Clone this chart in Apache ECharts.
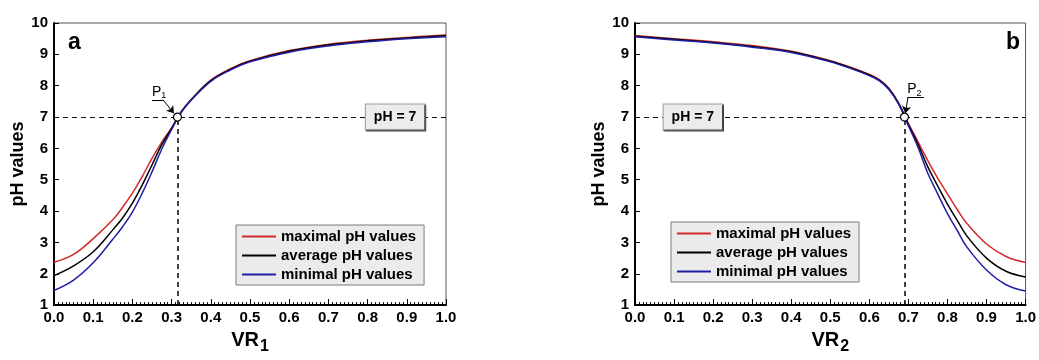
<!DOCTYPE html>
<html>
<head>
<meta charset="utf-8">
<script src="https://cdn.jsdelivr.net/npm/echarts@6/dist/echarts.min.js"></script>
<style>
  html, body { margin: 0; padding: 0; background: #fff; }
  #chart { width: 1039px; height: 360px; }
</style>
</head>
<body>
<div id="chart"></div>
<script>
// --- data ---
const seriesNames = ['maximal pH values', 'average pH values', 'minimal pH values'];
const xTickLabels = ['0.0', '0.1', '0.2', '0.3', '0.4', '0.5', '0.6', '0.7', '0.8', '0.9', '1.0'];

// panel a
const vr1 = [0, 0.05, 0.1, 0.15, 0.175, 0.2, 0.225, 0.25, 0.275, 0.3, 0.325, 0.35, 0.4, 0.45, 0.5, 0.6, 0.7, 0.8, 0.9, 1.0];
const maxA = [2.37, 2.62, 3.12, 3.72, 4.12, 4.57, 5.1, 5.68, 6.2, 6.66, 7.18, 7.56, 8.18, 8.54, 8.8, 9.12, 9.32, 9.45, 9.54, 9.62];
const avgA = [1.94, 2.25, 2.7, 3.4, 3.78, 4.25, 4.83, 5.47, 6.12, 6.63, 7.17, 7.55, 8.16, 8.52, 8.78, 9.1, 9.3, 9.43, 9.52, 9.59];
const minA = [1.47, 1.8, 2.35, 3.1, 3.5, 3.97, 4.57, 5.25, 5.98, 6.6, 7.16, 7.54, 8.14, 8.5, 8.76, 9.07, 9.27, 9.4, 9.5, 9.56];
const p1 = 0.315;

// panel b
const vr2 = [0, 0.1, 0.2, 0.3, 0.4, 0.5, 0.55, 0.6, 0.625, 0.65, 0.675, 0.7, 0.725, 0.75, 0.775, 0.8, 0.825, 0.85, 0.9, 0.95, 1.0];
const maxB = [9.6, 9.5, 9.4, 9.28, 9.1, 8.8, 8.6, 8.36, 8.2, 7.92, 7.45, 6.8, 6.2, 5.6, 5.05, 4.55, 4.05, 3.6, 2.95, 2.55, 2.36];
const avgB = [9.58, 9.48, 9.38, 9.25, 9.08, 8.78, 8.58, 8.34, 8.18, 7.9, 7.43, 6.76, 6.12, 5.4, 4.8, 4.22, 3.7, 3.2, 2.5, 2.08, 1.9];
const minB = [9.56, 9.46, 9.36, 9.23, 9.06, 8.76, 8.56, 8.32, 8.16, 7.88, 7.41, 6.72, 6.02, 5.2, 4.55, 3.92, 3.38, 2.85, 2.12, 1.65, 1.45];
const p2 = 0.69;

const colors = ['#d22a2a', '#000000', '#1f1fa6'];
const FONT = '"Liberation Sans", Arial, sans-serif';

const pairs = (xs, ys) => xs.map((x, i) => [x, ys[i]]);

const chart = echarts.init(document.getElementById('chart'));

function xAxisFor(idx, sub) {
    return {
        type: 'value', gridIndex: idx, min: 0, max: 1, interval: 0.1,
        name: '{v|VR}{s|' + sub + '}',
        nameLocation: 'middle', nameGap: 18,
        nameTextStyle: {
            rich: {
                v: { fontSize: 20, fontWeight: 'bold', fontFamily: FONT, color: '#000', verticalAlign: 'top', lineHeight: 22 },
                s: { fontSize: 16, fontWeight: 'bold', fontFamily: FONT, color: '#000', verticalAlign: 'top', lineHeight: 16, padding: [9, 0, 0, 1] }
            }
        },
        axisLine: { lineStyle: { color: '#000', width: 2 } },
        axisTick: { inside: true, length: 6, lineStyle: { color: '#000' } },
        minorTick: { show: true, splitNumber: 10, length: 3, lineStyle: { color: '#000' } },
        axisLabel: {
            margin: 5, fontSize: 15, fontWeight: 'bold', fontFamily: FONT, color: '#000',
            formatter: (v) => xTickLabels[Math.round(v * 10)]
        },
        splitLine: { show: false }
    };
}

function yAxisFor(idx) {
    return {
        type: 'value', gridIndex: idx, min: 1, max: 10, interval: 1,
        name: 'pH values', nameLocation: 'middle', nameGap: 24,
        nameTextStyle: { fontSize: 18, fontWeight: 'bold', fontFamily: FONT, color: '#000' },
        axisLine: { show: true, lineStyle: { color: '#000', width: 2 } },
        axisTick: { inside: true, length: 5, lineStyle: { color: '#000' } },
        axisLabel: { margin: 6, fontSize: 15, fontWeight: 'bold', fontFamily: FONT, color: '#000' },
        splitLine: { show: false }
    };
}

function legendFor(left, top) {
    return {
        left: left, top: top, orient: 'vertical',
        data: seriesNames, selectedMode: false,
        icon: 'rect', itemWidth: 34, itemHeight: 2, itemGap: 2,
        backgroundColor: '#ebebeb', borderColor: '#7a7a7a', borderWidth: 1,
        padding: [3, 8, 2, 6],
        textStyle: { fontSize: 15, fontWeight: 'bold', fontFamily: FONT, color: '#000', lineHeight: 17 }
    };
}

function markers(px, labelAt, underlineEnd, arrowFrom, arrowTo, sub, boxX) {
    return {
        markLine: {
            silent: true, symbol: 'none', animation: false,
            label: { show: false },
            lineStyle: { type: [5, 4], color: '#111', width: 1 },
            data: [
                { yAxis: 7 },
                [{ coord: [px, 1], lineStyle: { width: 1.6 } }, { coord: [px, 7] }],
                [{ coord: labelAt, lineStyle: { type: 'solid', width: 1, color: '#000' } }, { coord: underlineEnd }],
                [{ coord: arrowFrom, lineStyle: { type: 'solid', width: 1, color: '#000' } },
                 { coord: arrowTo, symbol: 'arrow', symbolSize: 7 }]
            ]
        },
        markPoint: {
            silent: true, animation: false,
            data: [
                {
                    coord: [px, 7], symbol: 'circle', symbolSize: 8,
                    itemStyle: { color: '#fff', borderColor: '#000', borderWidth: 1.2 },
                    label: { show: false }
                },
                {
                    coord: labelAt, symbolSize: 0,
                    label: {
                        show: true, position: [0, -15], formatter: '{p|P}{s|' + sub + '}',
                        rich: {
                            p: { fontSize: 14, fontFamily: FONT, color: '#000', verticalAlign: 'top', lineHeight: 14 },
                            s: { fontSize: 9, fontFamily: FONT, color: '#000', verticalAlign: 'top', lineHeight: 9, padding: [6, 0, 0, 0] }
                        }
                    }
                },
                {
                    coord: [boxX, 7], symbolSize: 0,
                    label: {
                        show: true, position: 'inside', formatter: 'pH = 7',
                        fontSize: 14, fontWeight: 'bold', fontFamily: FONT, color: '#000',
                        backgroundColor: '#ececec', borderColor: '#9a9a9a', borderWidth: 1,
                        padding: [6, 8, 5, 8],
                        shadowColor: '#444', shadowOffsetX: 1, shadowOffsetY: 1, shadowBlur: 0
                    }
                }
            ]
        }
    };
}

const lineBase = (name, color, idx, data) => ({
    name: name, type: 'line', xAxisIndex: idx, yAxisIndex: idx,
    data: data, smooth: 0.4, symbol: 'none',
    lineStyle: { color: color, width: 1.5 }, itemStyle: { color: color },
    animation: false, z: 3
});

const option = {
    animation: false,
    textStyle: { fontFamily: FONT },
    grid: [
        { left: 54, top: 23, width: 392, height: 289, show: true, borderColor: '#555', borderWidth: 1, backgroundColor: 'transparent' },
        { left: 635, top: 23, width: 392, height: 289, show: true, borderColor: '#555', borderWidth: 1, backgroundColor: 'transparent' }
    ],
    title: [
        { text: 'a', left: 68, top: 31, padding: 0, textStyle: { fontSize: 23, fontWeight: 'bold', fontFamily: FONT, color: '#000' } },
        { text: 'b', left: 1006, top: 31, padding: 0, textStyle: { fontSize: 23, fontWeight: 'bold', fontFamily: FONT, color: '#000' } }
    ],
    legend: [legendFor(236, 225), legendFor(671, 222)],
    xAxis: [xAxisFor(0, '1'), xAxisFor(1, '2')],
    yAxis: [yAxisFor(0), yAxisFor(1)],
    series: [
        lineBase(seriesNames[0], colors[0], 0, pairs(vr1, maxA)),
        Object.assign(lineBase(seriesNames[1], colors[1], 0, pairs(vr1, avgA)),
            markers(p1, [0.25, 7.55], [0.278, 7.55], [0.278, 7.55], [0.306, 7.12], '1', 0.87)),
        lineBase(seriesNames[2], colors[2], 0, pairs(vr1, minA)),
        lineBase(seriesNames[0], colors[0], 1, pairs(vr2, maxB)),
        Object.assign(lineBase(seriesNames[1], colors[1], 1, pairs(vr2, avgB)),
            markers(p2, [0.697, 7.62], [0.74, 7.62], [0.699, 7.62], [0.692, 7.12], '2', 0.148)),
        lineBase(seriesNames[2], colors[2], 1, pairs(vr2, minB))
    ]
};

chart.setOption(option);
</script>
</body>
</html>
